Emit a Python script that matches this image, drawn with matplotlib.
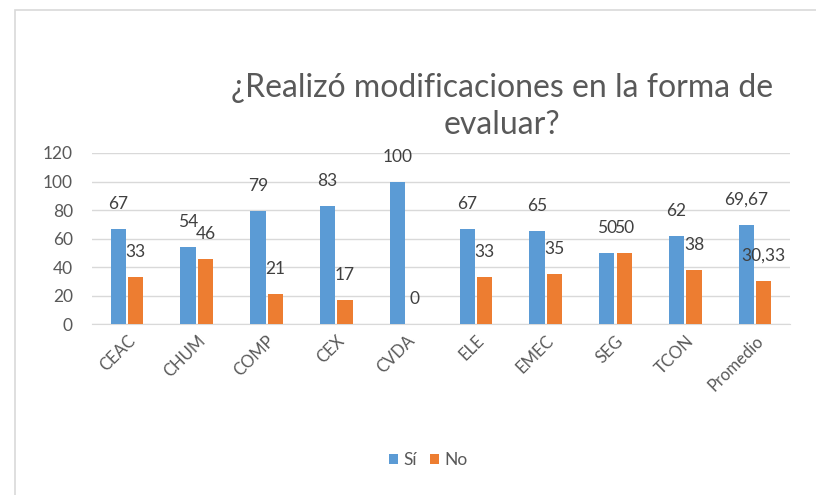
import matplotlib.pyplot as plt
import numpy as np
from matplotlib.patches import Rectangle

categorias = ['CEAC', 'CHUM', 'COMP', 'CEX', 'CVDA', 'ELE', 'EMEC', 'SEG', 'TCON', 'Promedio']
si = [67, 54, 79, 83, 100, 67, 65, 50, 62, 69.67]
no = [33, 46, 21, 17, 0, 33, 35, 50, 38, 30.33]
etiquetas_si = ['67', '54', '79', '83', '100', '67', '65', '50', '62', '69,67']
etiquetas_no = ['33', '46', '21', '17', '0', '33', '35', '50', '38', '30,33']

plt.rcParams['font.family'] = ['Lato', 'DejaVu Sans']
gris = '#595959'
azul = '#5B9BD5'
naranja = '#ED7D31'

fig = plt.figure(figsize=(8.16, 4.95), dpi=100)
ax = fig.add_axes([0.113, 0.345, 0.855, 0.346])

# marco del grafico
fig.patches.append(Rectangle((15/816, -0.1), 1.0, 1 - 10/495 + 0.1, transform=fig.transFigure,
                             fill=False, edgecolor='#D9D9D9', linewidth=1.2))

x = np.arange(len(categorias))
w = 0.22
b1 = ax.bar(x - 0.125, si, w, color=azul, label='Sí', zorder=3)
b2 = ax.bar(x + 0.125, no, w, color=naranja, label='No', zorder=3)

for bar, t in zip(b1, etiquetas_si):
    ax.annotate(t, (bar.get_x() + bar.get_width() / 2, bar.get_height()), xytext=(0, 18),
                textcoords='offset points', ha='center', va='center', fontsize=12.5, color='#404040')
for bar, t in zip(b2, etiquetas_no):
    ax.annotate(t, (bar.get_x() + bar.get_width() / 2, bar.get_height()), xytext=(0, 18),
                textcoords='offset points', ha='center', va='center', fontsize=12.5, color='#404040')

ax.set_xlim(-0.5, len(categorias) - 0.5)
ax.set_ylim(0, 120)
ax.set_yticks(range(0, 121, 20))
ax.grid(axis='y', color='#D9D9D9', linewidth=1, zorder=0)
for s in ['top', 'right', 'left']:
    ax.spines[s].set_visible(False)
ax.spines['bottom'].set_color('#D9D9D9')
ax.tick_params(axis='both', length=0, colors=gris, labelsize=12.5)
ax.tick_params(axis='y', pad=14)
ax.tick_params(axis='x', pad=6)
ax.set_xticks(x)
ax.set_xticklabels(categorias, rotation=45, ha='right', rotation_mode='anchor', fontsize=12)

fig.text(0.615, 0.785, '¿Realizó modificaciones en la forma de\nevaluar?', ha='center', va='center',
         fontsize=23, color=gris, linespacing=1.3)

fig.legend(handles=[b1, b2], loc='center', bbox_to_anchor=(0.525, 0.07), ncol=2, frameon=False,
           fontsize=12.5, labelcolor=gris, handlelength=0.5, handleheight=0.5, handletextpad=0.3,
           columnspacing=0.8)

fig.savefig('out.png', dpi=100)
